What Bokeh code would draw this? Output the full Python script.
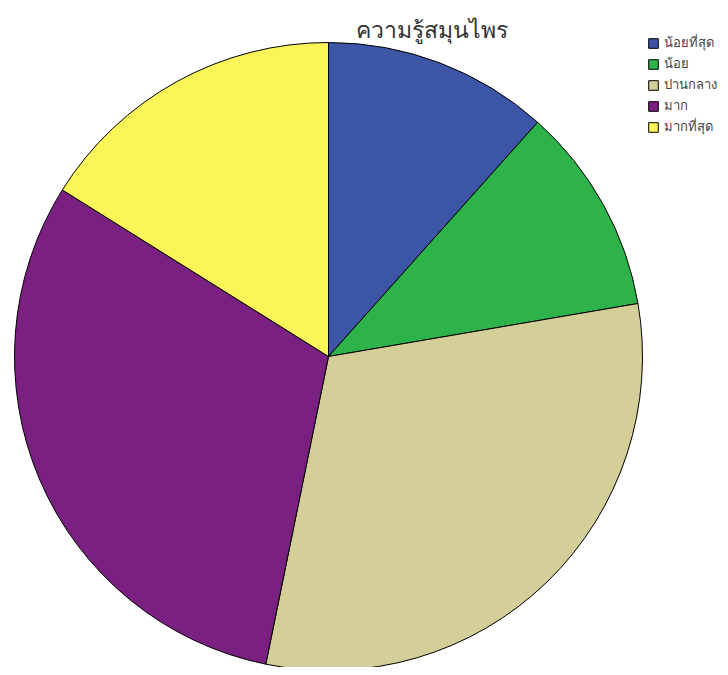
import math
from bokeh.plotting import figure
from bokeh.models import Range1d, Legend, LegendItem, Label, ColumnDataSource
from bokeh.embed import file_html
from bokeh.resources import INLINE

categories = ["น้อยที่สุด", "น้อย", "ปานกลาง", "มาก", "มากที่สุด"]
percents = [11.6, 10.7, 30.9, 30.7, 16.1]
colors = ["#3d55a6", "#2eb24a", "#d4cf98", "#7a2080", "#fbf55a"]
title_text = "ความรู้สมุนไพร"

W, H = 720, 667
p = figure(width=W, height=H, output_backend="svg", toolbar_location=None,
           x_range=Range1d(0, W), y_range=Range1d(0, H), min_border=0)
p.axis.visible = False
p.grid.visible = False
p.outline_line_color = None

total = sum(percents)
starts, ends = [], []
acc = 0.0
for v in percents:
    a0 = math.pi / 2 - acc / total * 2 * math.pi
    acc += v
    a1 = math.pi / 2 - acc / total * 2 * math.pi
    starts.append(a0)
    ends.append(a1)

src = ColumnDataSource(dict(cat=categories, val=percents, color=colors, start=starts, end=ends))
cx, cy, r = 328, H - 356, 314
wr = p.wedge(x=cx, y=cy, radius=r, start_angle="start", end_angle="end", direction="clock",
             fill_color="color", line_color="black", line_width=1, source=src)

items = [LegendItem(label=c, renderers=[wr], index=i) for i, c in enumerate(categories)]
legend = Legend(items=items, location=(647, H - 137), glyph_width=12, glyph_height=12,
                label_text_font_size="13px", label_text_font="Noto Sans", spacing=0, padding=0,
                margin=0, label_standoff=5, label_height=18,
                border_line_alpha=0, background_fill_alpha=0)
p.add_layout(legend, "center")

p.add_layout(Label(x=431, y=H - 28, x_units="screen", y_units="screen", text=title_text,
                   text_align="center", text_baseline="middle", text_font_size="23px",
                   text_font="Noto Sans", text_font_style="normal", text_color="#333333"))

open("out.html", "w").write(file_html(p, INLINE))
